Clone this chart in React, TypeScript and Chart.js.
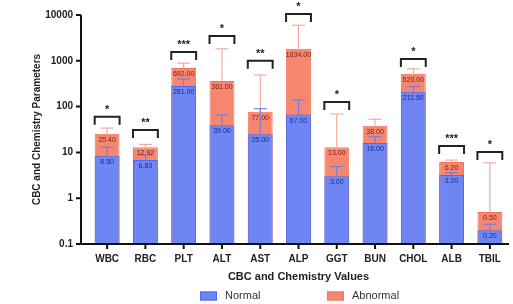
import React, { useEffect, useRef } from "react";
import { Chart, registerables } from "chart.js";
Chart.register(...registerables);

const categories = ["WBC", "RBC", "PLT", "ALT", "AST", "ALP", "GGT", "BUN", "CHOL", "ALB", "TBIL"];
const normalValues = [8.5, 6.83, 281, 39, 25, 67, 3, 16, 211.5, 3.2, 0.2];
const abnormalValues = [25.4, 12.92, 692, 361, 77, 1834, 13, 38, 520, 6.2, 0.5];
const normalErrorTop = [13, 8.8, 400, 66, 90, 139, 4.9, 22, 272, 3.6, 0.27];
const abnormalErrorTop = [34, 15, 890, 1820, 490, 6000, 69, 53, 665, 6.8, 5.9];
const significance = ["*", "**", "***", "*", "**", "*", "*", "", "*", "***", "*"];
const bracketLevels = [60, 31, 1550, 3470, 1000, 10500, 126, 0, 1100, 13.8, 10.2];
const yTicks = [0.1, 1, 10, 100, 1000, 10000];

const FONT = "'Liberation Sans', Arial, sans-serif";
const BLUE = "#6d86f4";
const BLUE_BORDER = "#4d6af0";
const RED = "#f7866f";
const RED_BORDER = "#f4735c";

const overlayPlugin = {
  id: "overlay",
  afterDatasetsDraw(chart: any) {
    const { ctx, chartArea } = chart;
    const xs = chart.scales.x;
    const ys = chart.scales.y;
    ctx.save();
    const meta0 = chart.getDatasetMeta(0);
    categories.forEach((_, i) => {
      const cx = xs.getPixelForValue(i);
      const bw = meta0.data[i] ? meta0.data[i].width : 25;
      const drawErr = (v: number, top: number, color: string) => {
        const y0 = ys.getPixelForValue(v);
        const y1 = ys.getPixelForValue(top);
        ctx.strokeStyle = color;
        ctx.lineWidth = 1;
        ctx.beginPath();
        ctx.moveTo(cx, y0);
        ctx.lineTo(cx, y1);
        ctx.moveTo(cx - 6.5, y1);
        ctx.lineTo(cx + 6.5, y1);
        ctx.stroke();
      };
      drawErr(abnormalValues[i], abnormalErrorTop[i], "#f49a88");
      drawErr(normalValues[i], normalErrorTop[i], "#5f7cf2");
      ctx.font = `7px ${FONT}`;
      ctx.textAlign = "center";
      ctx.textBaseline = "middle";
      ctx.fillStyle = "#7a1e12";
      ctx.fillText(abnormalValues[i].toFixed(2), cx, ys.getPixelForValue(abnormalValues[i]) + 6);
      ctx.fillStyle = "#1b2c92";
      ctx.fillText(normalValues[i].toFixed(2), cx, ys.getPixelForValue(normalValues[i]) + 6);
      if (significance[i]) {
        const by = ys.getPixelForValue(bracketLevels[i]);
        const hw = bw / 2;
        ctx.strokeStyle = "#222";
        ctx.lineWidth = 2;
        ctx.beginPath();
        ctx.moveTo(cx - hw, by + 8);
        ctx.lineTo(cx - hw, by);
        ctx.lineTo(cx + hw, by);
        ctx.lineTo(cx + hw, by + 8);
        ctx.stroke();
        ctx.fillStyle = "#222";
        ctx.font = `bold 11px ${FONT}`;
        ctx.textBaseline = "middle";
        ctx.fillText(significance[i], cx, by - 7);
      }
    });
    const ax = chartArea.left - 7;
    ctx.strokeStyle = "#111";
    ctx.lineWidth = 2;
    ctx.beginPath();
    ctx.moveTo(ax, ys.getPixelForValue(yTicks[yTicks.length - 1]));
    ctx.lineTo(ax, chartArea.bottom);
    ctx.lineTo(chartArea.right, chartArea.bottom);
    yTicks.forEach((t) => {
      const ty = ys.getPixelForValue(t);
      ctx.moveTo(ax - 5, ty);
      ctx.lineTo(ax, ty);
    });
    categories.forEach((_, i) => {
      const cx = xs.getPixelForValue(i);
      ctx.moveTo(cx, chartArea.bottom);
      ctx.lineTo(cx, chartArea.bottom + 5);
    });
    ctx.stroke();
    const items = [
      { label: "Normal", fill: BLUE, border: BLUE_BORDER, x: 200 },
      { label: "Abnormal", fill: RED, border: RED_BORDER, x: 327 },
    ];
    const ly = 296;
    items.forEach((it) => {
      ctx.fillStyle = it.fill;
      ctx.fillRect(it.x, ly - 4.5, 17, 9);
      ctx.strokeStyle = it.border;
      ctx.lineWidth = 1;
      ctx.strokeRect(it.x + 0.5, ly - 4, 16, 8);
      ctx.fillStyle = "#333";
      ctx.font = `11px ${FONT}`;
      ctx.textAlign = "left";
      ctx.textBaseline = "middle";
      ctx.fillText(it.label, it.x + 25, ly);
    });
    ctx.restore();
  },
};

export default function App() {
  const ref = useRef<HTMLCanvasElement>(null);
  useEffect(() => {
    if (!ref.current) return;
    const chart = new Chart(ref.current, {
      type: "bar",
      data: {
        labels: categories,
        datasets: [
          {
            label: "Normal",
            data: normalValues,
            backgroundColor: BLUE,
            borderColor: BLUE_BORDER,
            borderWidth: 1,
            grouped: false,
            barPercentage: 0.65,
            categoryPercentage: 1,
          } as any,
          {
            label: "Abnormal",
            data: abnormalValues,
            backgroundColor: RED,
            borderColor: RED_BORDER,
            borderWidth: 1,
            grouped: false,
            barPercentage: 0.65,
            categoryPercentage: 1,
          } as any,
        ],
      },
      options: {
        animation: false,
        responsive: false,
        layout: { padding: { top: 15, right: 4, left: 0, bottom: 0 } },
        plugins: { legend: { display: false }, tooltip: { enabled: false } },
        scales: {
          x: {
            type: "category",
            offset: true,
            grid: { display: false, drawTicks: false },
            border: { display: false },
            ticks: {
              font: { family: FONT, size: 10, weight: "bold" },
              color: "#222",
              padding: 9,
              maxRotation: 0,
              autoSkip: false,
            },
            title: {
              display: true,
              text: "CBC and Chemistry Values",
              font: { family: FONT, size: 11, weight: "bold" },
              color: "#222",
              padding: { top: 0, bottom: 20 },
            },
            afterFit: (s: any) => {
              s.height = 60;
              s.paddingLeft = 0;
              s.paddingRight = 0;
            },
          },
          y: {
            type: "logarithmic",
            min: 0.1,
            max: 10000,
            grid: { display: false, drawTicks: false },
            border: { display: false },
            afterBuildTicks: (s: any) => {
              s.ticks = yTicks.map((v) => ({ value: v }));
            },
            ticks: {
              font: { family: FONT, size: 10, weight: "bold" },
              color: "#222",
              padding: 15,
              callback: (v: any) => String(v),
            },
            title: {
              display: true,
              text: "CBC and Chemistry Parameters",
              font: { family: FONT, size: 10, weight: "bold" },
              color: "#222",
              padding: { top: 31, bottom: 0 },
            },
            afterFit: (s: any) => {
              s.width = 88;
              s.paddingTop = 0;
              s.paddingBottom = 0;
            },
          },
        },
      } as any,
      plugins: [overlayPlugin],
    });
    return () => chart.destroy();
  }, []);
  return (
    <div style={{ position: "fixed", left: 0, top: 0, width: 513, height: 304, background: "#fff" }}>
      <canvas ref={ref} width={513} height={304} style={{ display: "block" }} />
    </div>
  );
}
